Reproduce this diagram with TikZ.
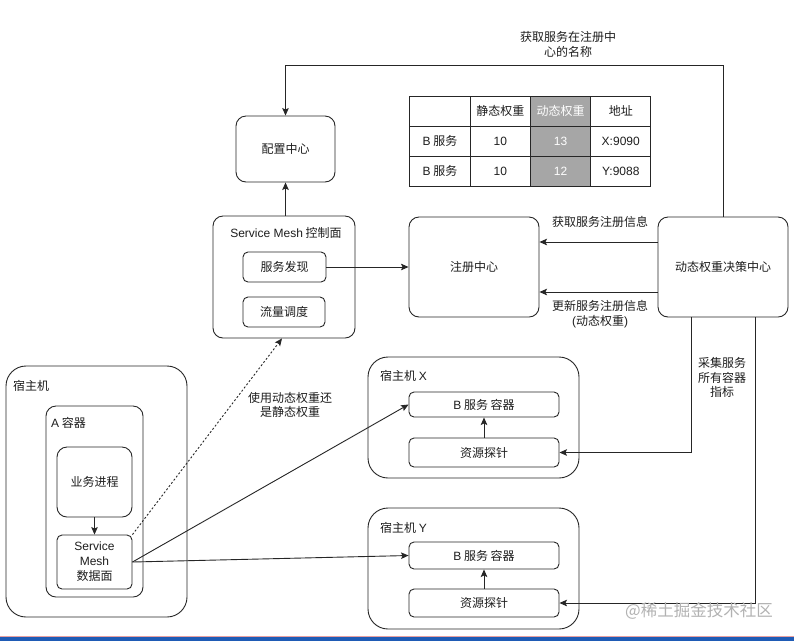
\documentclass[tikz,border=0pt]{standalone}
\usepackage{fontspec}
\setmainfont{Noto Sans CJK SC}
\newfontfamily\lat{Liberation Sans}
\usetikzlibrary{arrows.meta}
\definecolor{linec}{HTML}{262626}
\definecolor{textc}{HTML}{1E1E1E}
\definecolor{tgray}{HTML}{A6A6A6}
\definecolor{barblue}{HTML}{1F5BB5}
\definecolor{barpink}{HTML}{E8A0A0}
\begin{document}
\begin{tikzpicture}[x=1pt,y=-1pt,
  font=\fontsize{12}{14.5}\selectfont,
  >={Stealth[length=7.5pt,width=6.5pt,inset=1.5pt]},
  conn/.style={draw=linec,line width=0.9pt},
  box/.style={draw=linec,line width=0.9pt,rounded corners=10pt,inner sep=0pt,align=center,text=textc},
  sbox/.style={box,rounded corners=5pt},
  host/.style={box,rounded corners=20pt},
  cell/.style={draw=linec,line width=0.9pt,minimum width=60.25pt,minimum height=30pt,inner sep=0pt,text=textc},
  dcell/.style={cell,fill=tgray,text=white},
  lbl/.style={text=textc,align=center,inner sep=0pt},
  ttl/.style={text=textc,anchor=west,inner sep=0pt}
]
\useasboundingbox (0,0) rectangle (794,641);
\fill[white] (0,0) rectangle (794,641);

% top row
\node[box,minimum width=99pt,minimum height=66pt] (cfg) at (285.5,149) {配置中心};

% table
\node[cell]  (t00) at (440,111) {};
\node[cell]  (t01) at (500.25,111) {静态权重};
\node[dcell] (t02) at (560.5,111) {动态权重};
\node[cell]  (t03) at (620.75,111) {地址};
\node[cell]  (t10) at (440,141) {{\lat B} 服务};
\node[cell]  (t11) at (500.25,141) {\lat 10};
\node[dcell] (t12) at (560.5,141) {\lat 13};
\node[cell]  (t13) at (620.75,141) {\lat X:9090};
\node[cell]  (t20) at (440,171) {{\lat B} 服务};
\node[cell]  (t21) at (500.25,171) {\lat 10};
\node[dcell] (t22) at (560.5,171) {\lat 12};
\node[cell]  (t23) at (620.75,171) {\lat Y:9088};

% middle row
\node[box,minimum width=142pt,minimum height=122pt] (cp) at (284,277) {};
\node[lbl] (cpt) at (286,233) {{\lat Service Mesh} 控制面};
\node[sbox,minimum width=83pt,minimum height=30pt] (disc) at (284.5,267) {服务发现};
\node[sbox,minimum width=82pt,minimum height=30pt] (flow) at (284,312) {流量调度};
\node[box,minimum width=130pt,minimum height=100pt] (reg) at (474,267) {注册中心};
\node[box,minimum width=130pt,minimum height=100pt] (dyn) at (723,267) {动态权重决策中心};

% host A
\node[host,minimum width=181pt,minimum height=251pt] (hostA) at (96.5,491.5) {};
\node[ttl] (hostAt) at (13,386) {宿主机};
\node[box,minimum width=97pt,minimum height=191pt] (contA) at (94.5,501.5) {};
\node[ttl] (contAt) at (51,423) {{\lat A} 容器};
\node[box,minimum width=75pt,minimum height=70pt] (biz) at (94.5,482) {业务进程};
\node[sbox,minimum width=75pt,minimum height=54pt,font=\fontsize{12}{15}\selectfont] (dp) at (94.5,562) {{\lat Service}\\{\lat Mesh}\\数据面};

% host X
\node[host,minimum width=211pt,minimum height=121pt] (hostX) at (473.5,417.5) {};
\node[ttl] (hostXt) at (380,376) {宿主机 {\lat X}};
\node[sbox,minimum width=150pt,minimum height=25pt] (bX) at (484,404.5) {{\lat B} 服务 容器};
\node[sbox,minimum width=150pt,minimum height=29pt] (pX) at (484,452.5) {资源探针};

% host Y
\node[host,minimum width=211pt,minimum height=121pt] (hostY) at (473.5,568.5) {};
\node[ttl] (hostYt) at (380,528) {宿主机 {\lat Y}};
\node[sbox,minimum width=150pt,minimum height=27pt] (bY) at (484,555.5) {{\lat B} 服务 容器};
\node[sbox,minimum width=150pt,minimum height=28pt] (pY) at (484,603) {资源探针};

% connectors
\draw[conn,->] (dyn.north) -- (dyn.north |- 0,65) -- (cfg.north |- 0,65) -- (cfg.north);
\node[lbl] (toplbl) at (568,44.5) {获取服务在注册中\\心的名称};
\draw[conn,->] (cp.north -| cfg.south) -- (cfg.south);
\draw[conn,->] (disc.east) -- (reg.west |- disc.east);
\draw[conn,->] ([yshift=25pt]dyn.west) -- ([yshift=25pt]reg.east);
\draw[conn,->] ([yshift=-25pt]dyn.west) -- ([yshift=-25pt]reg.east);
\node[lbl] (l1) at (600,222) {获取服务注册信息};
\node[lbl] (l2) at (600,314) {更新服务注册信息\\{\lat (}动态权重{\lat )}};
\draw[conn,->] ([xshift=-32pt]dyn.south) |- (pX.east);
\draw[conn,->] ([xshift=32pt]dyn.south) |- (pY.east);
\node[lbl] (l3) at (722,377.5) {采集服务\\所有容器\\指标};
\draw[conn,->] (pX.north) -- (bX.south);
\draw[conn,->] (pY.north) -- (bY.south);
\draw[conn,->] (biz.south) -- (dp.north -| biz.south);
\draw[conn,->] (dp.east) -- (bX.west);
\draw[conn,->] (dp.east) -- (bY.west);
\draw[conn,->,dash pattern=on 2pt off 2pt] (dp.north east) -- ([xshift=-2pt]cp.south);
\node[lbl] (l4) at (290,405) {使用动态权重还\\是静态权重};

% watermark and bottom bar
\node[text=black!30,inner sep=0pt,font=\fontsize{16.5}{17}\selectfont] (wm) at (699,611) {@稀土掘金技术社区};
\fill[barpink] (0,636) rectangle (794,637);
\fill[barblue] (0,637) rectangle (794,641);
\end{tikzpicture}
\end{document}
